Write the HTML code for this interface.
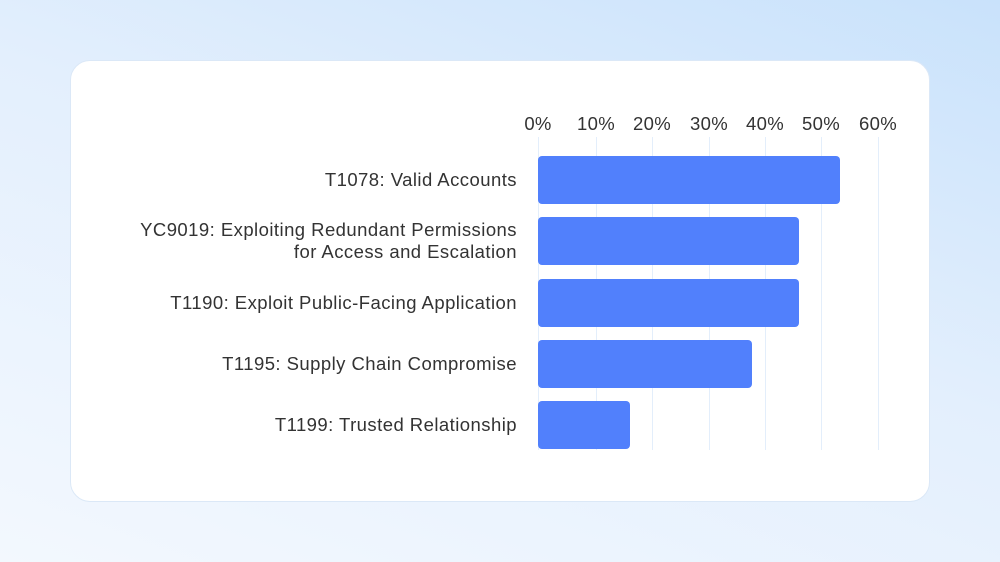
<!DOCTYPE html>
<html><head><style>
body{margin:0;width:1000px;height:562px;overflow:hidden;font-family:"Liberation Sans",sans-serif;
background:linear-gradient(200deg,#c9e2fb 0%,#e3effd 45%,#f3f8fe 100%);position:relative}
.card{position:absolute;left:70px;top:60px;width:858px;height:440px;background:#fff;border:1px solid #dbe8f7;border-radius:20px}
.g{position:absolute;top:137px;height:313px;width:1px;background:#e3eefb}
.t{position:absolute;top:113px;font-size:18.5px;color:#333;transform:translateX(-50%);letter-spacing:0.3px}
.b{position:absolute;left:538px;height:48px;background:#5180fc;border-radius:4px}
.l{position:absolute;right:483px;font-size:18.5px;letter-spacing:0.45px;color:#333;text-align:right;line-height:22px;white-space:nowrap}
</style></head><body>
<div class="card"></div>
<div class="g" style="left:538px"></div><div class="g" style="left:596px"></div><div class="g" style="left:652px"></div><div class="g" style="left:709px"></div><div class="g" style="left:765px"></div><div class="g" style="left:821px"></div><div class="g" style="left:878px"></div>
<div class="t" style="left:538px">0%</div><div class="t" style="left:596px">10%</div><div class="t" style="left:652px">20%</div><div class="t" style="left:709px">30%</div><div class="t" style="left:765px">40%</div><div class="t" style="left:821px">50%</div><div class="t" style="left:878px">60%</div>
<div class="b" style="top:156px;width:302px"></div>
<div class="b" style="top:217px;width:261px"></div>
<div class="b" style="top:279px;width:261px"></div>
<div class="b" style="top:340px;width:214px"></div>
<div class="b" style="top:401px;width:92px"></div>
<div class="l" style="top:169px">T1078: Valid Accounts</div>
<div class="l" style="top:219px">YC9019: Exploiting Redundant Permissions<br>for Access and Escalation</div>
<div class="l" style="top:292px">T1190: Exploit Public-Facing Application</div>
<div class="l" style="top:353px">T1195: Supply Chain Compromise</div>
<div class="l" style="top:414px">T1199: Trusted Relationship</div>
</body></html>
